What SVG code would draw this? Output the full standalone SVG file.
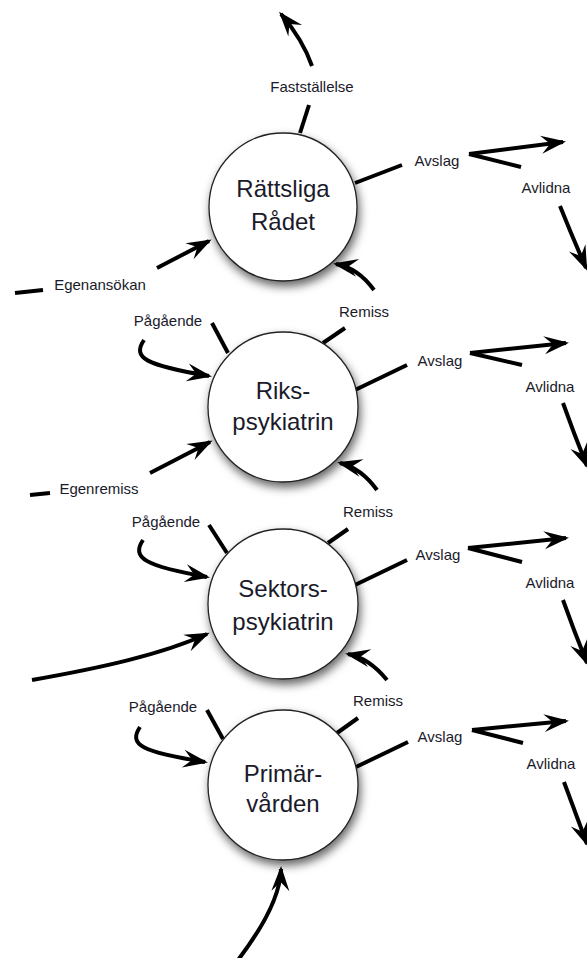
<svg xmlns="http://www.w3.org/2000/svg" width="587" height="958" viewBox="0 0 587 958">
<style>
.node circle{fill:#fff;stroke:#222;stroke-width:1.3;filter:url(#sh)}
.node text{font-family:"Liberation Sans",Arial,sans-serif;font-size:24px;fill:#1a1a2a;text-anchor:middle}
.c path{fill:none;stroke:#000;stroke-width:4;stroke-linecap:butt}
.c path.a{marker-end:url(#ah)}
.lbl{font-family:"Liberation Sans",Arial,sans-serif;font-size:15px;fill:#1a1a2a;text-anchor:middle}
</style>
<defs>
<filter id="sh" x="-25%" y="-25%" width="160%" height="160%">
<feDropShadow dx="2" dy="5" stdDeviation="5" flood-color="#000" flood-opacity="0.6"/>
</filter>
<marker id="ah" viewBox="-26 -11 30 22" markerWidth="30" markerHeight="22" refX="0" refY="0" orient="auto" markerUnits="userSpaceOnUse">
<path d="M3,0 L-22,-9 L-13,0 L-22,9 Z" fill="#000"/>
</marker>
</defs>
<rect width="587" height="958" fill="#fff"/>

<g id="connectors" class="c">
<!-- Circle 1 -->
<path d="M300,133 L309,105"/>
<path class="a" d="M312,66 Q303,40 281,14"/>
<path d="M355,183 L402,165"/>
<path class="a" d="M469,154 L563,142"/>
<path d="M469,154 L521,167"/>
<path class="a" d="M560,206 Q572,236 586,268"/>
<path d="M15,293 L43,290"/>
<path class="a" d="M157,268 L209,241"/>
<path class="a" d="M374,290 Q358,268 336,264"/>
<!-- Circle 2 -->
<path d="M323,343 L345,328"/>
<path d="M228,353 L212,323"/>
<path class="a" d="M144,340 C132,358 145,365 209,376"/>
<path d="M355,390 L407,365"/>
<path class="a" d="M470,353 L566,343"/>
<path d="M470,353 L522,365"/>
<path class="a" d="M563,403 Q574,434 587,466"/>
<path d="M30,495 L50,493"/>
<path class="a" d="M150,473 L210,442"/>
<path class="a" d="M377,490 Q361,468 340,463"/>
<!-- Circle 3 -->
<path d="M328,543 L348,529"/>
<path d="M209,525 L227,553"/>
<path class="a" d="M143,540 C131,558 145,566 207,577"/>
<path d="M355,585 L407,560"/>
<path class="a" d="M468,548 L566,538"/>
<path d="M468,548 L522,562"/>
<path class="a" d="M563,600 Q574,631 587,663"/>
<path class="a" d="M32,680 C100,668 160,655 207,634"/>
<path class="a" d="M387,680 Q369,658 348,654"/>
<!-- Circle 4 -->
<path d="M337,733 L358,718"/>
<path d="M207,710 L223,739"/>
<path class="a" d="M140,727 C128,745 142,752 205,762"/>
<path d="M356,767 L408,742"/>
<path class="a" d="M472,730 L566,721"/>
<path d="M472,730 L523,743"/>
<path class="a" d="M564,782 Q575,812 587,844"/>
<path class="a" d="M238,960 Q280,905 281,869"/>

<text class="lbl" x="312" y="92">Fastställelse</text>
<text class="lbl" x="437" y="166">Avslag</text>
<text class="lbl" x="546" y="193">Avlidna</text>
<text class="lbl" x="100" y="290">Egenansökan</text>
<text class="lbl" x="364" y="317">Remiss</text>
<text class="lbl" x="168" y="326">Pågående</text>
<text class="lbl" x="440" y="366">Avslag</text>
<text class="lbl" x="550" y="392">Avlidna</text>
<text class="lbl" x="99" y="494">Egenremiss</text>
<text class="lbl" x="368" y="517">Remiss</text>
<text class="lbl" x="166" y="527">Pågående</text>
<text class="lbl" x="438" y="560">Avslag</text>
<text class="lbl" x="550" y="588">Avlidna</text>
<text class="lbl" x="378" y="706">Remiss</text>
<text class="lbl" x="163" y="712">Pågående</text>
<text class="lbl" x="440" y="742">Avslag</text>
<text class="lbl" x="551" y="769">Avlidna</text>
</g>

<g id="rattsliga-radet" class="node">
<circle cx="283" cy="207" r="74"/>
<text x="283" y="197">Rättsliga</text>
<text x="283" y="230">Rådet</text>
</g>
<g id="rikspsykiatrin" class="node">
<circle cx="283" cy="407" r="75"/>
<text x="283" y="399">Riks-</text>
<text x="283" y="430">psykiatrin</text>
</g>
<g id="sektorspsykiatrin" class="node">
<circle cx="283" cy="604" r="75"/>
<text x="283" y="597">Sektors-</text>
<text x="283" y="630">psykiatrin</text>
</g>
<g id="primarvarden" class="node">
<circle cx="283" cy="785" r="75"/>
<text x="283" y="782">Primär-</text>
<text x="283" y="812">vården</text>
</g>
</svg>
